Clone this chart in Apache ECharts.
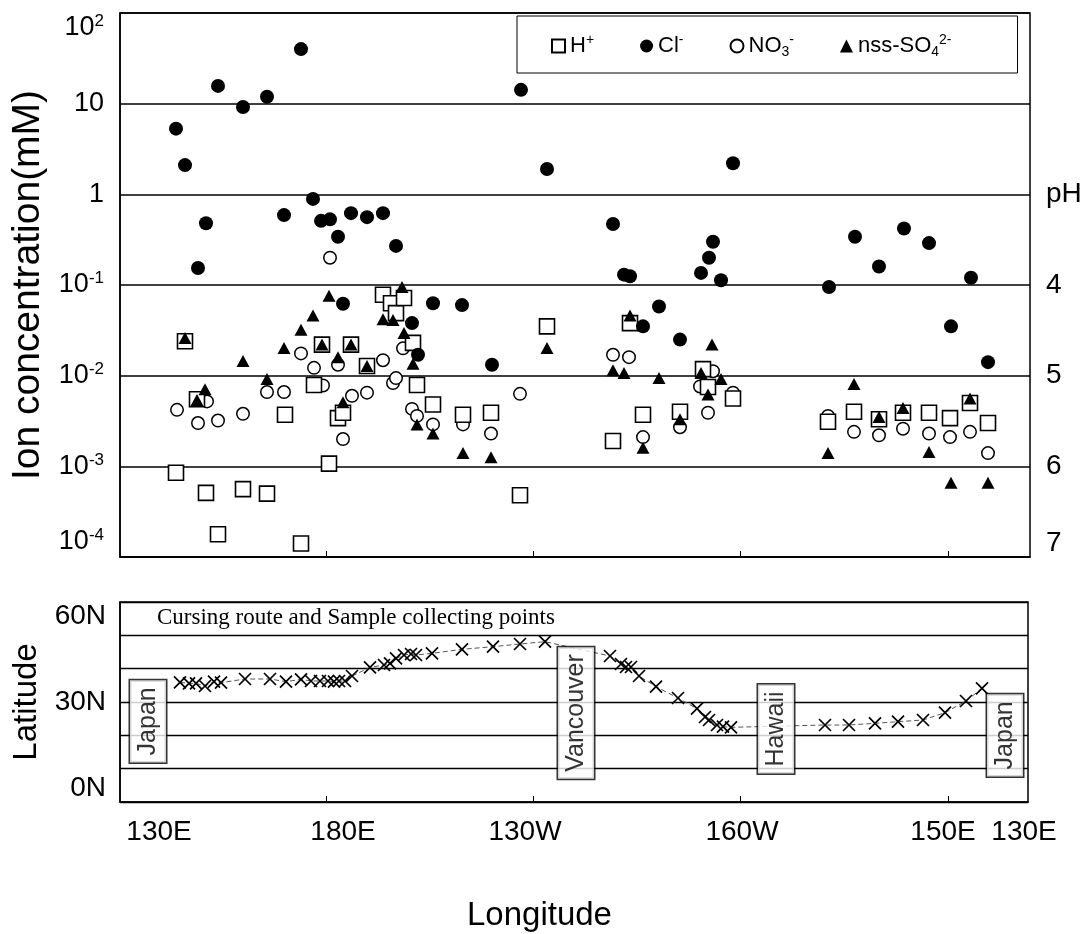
<!DOCTYPE html>
<html><head><meta charset="utf-8">
<script src="https://cdn.jsdelivr.net/npm/echarts@6/dist/echarts.min.js"></script>
<style>html,body{margin:0;padding:0;background:#fff}#c{width:1091px;height:934px}</style>
</head><body><div id="c"></div>
<script>
// ---------------- DATA ----------------
// x = position along the cruise route (chart units), y = concentration (mM)
const clX    = [56,65,78,86,98,123,147,164,181,193,201,210,218,223,231,247,263,276,292,298,313,342,372,401,427,493,504,510,523,539,560,581,589,593,601,613,709,735,759,784,809,831,851,868];
const clConc = [5.3,2.1,0.154,0.48,15.7,9.2,11.9,0.59,40,0.89,0.51,0.53,0.34,0.062,0.62,0.56,0.62,0.27,0.038,0.017,0.063,0.06,0.0132,14.2,1.9,0.47,0.13,0.125,0.035,0.058,0.025,0.136,0.20,0.30,0.113,2.2,0.095,0.34,0.16,0.42,0.29,0.035,0.12,0.0141];

const hX    = [56,65,77,86,98,123,147,165,181,194,202,209,218,223,231,247,263,271,276,284,293,297,313,343,371,400,427,493,510,523,560,583,588,613,708,734,759,783,809,830,850,868];
const hConc = [0.00085,0.024,0.0055,0.00051,0.000178,0.00056,0.0005,0.0037,0.000141,0.0079,0.022,0.00107,0.0034,0.0039,0.022,0.0128,0.078,0.063,0.049,0.072,0.023,0.0079,0.0048,0.0037,0.0039,0.00048,0.035,0.0019,0.038,0.0037,0.004,0.0118,0.0075,0.0056,0.0031,0.004,0.0033,0.0039,0.0039,0.0034,0.005,0.003];

const no3X    = [57,78,87,98,123,147,164,181,194,203,210,218,223,232,247,263,273,276,283,292,297,313,343,371,400,493,509,523,560,580,588,593,613,708,734,759,783,809,830,850,868];
const no3Conc = [0.0042,0.003,0.0052,0.0032,0.0038,0.0066,0.0066,0.0176,0.0122,0.0078,0.20,0.0132,0.002,0.006,0.0065,0.0148,0.0083,0.0094,0.02,0.0043,0.0036,0.0029,0.0029,0.0023,0.0063,0.017,0.016,0.0021,0.0027,0.0076,0.0039,0.0112,0.0065,0.0036,0.0024,0.0022,0.0026,0.0023,0.0021,0.0024,0.0014];

const so4X    = [65,77,85,123,147,164,181,193,202,209,218,223,231,247,263,273,282,284,293,297,313,343,371,427,493,504,510,523,539,560,581,588,592,601,708,734,759,783,809,831,850,868];
const so4Conc = [0.026,0.0054,0.0071,0.0145,0.0092,0.0202,0.032,0.046,0.022,0.076,0.016,0.0051,0.022,0.0128,0.042,0.041,0.095,0.0295,0.0135,0.0029,0.0023,0.0014,0.00126,0.0202,0.0115,0.0107,0.046,0.0016,0.0094,0.0033,0.0107,0.0062,0.022,0.0092,0.0014,0.0081,0.0035,0.0044,0.00144,0.00066,0.0056,0.00066];

// cruise route: position along route and latitude (deg N)
const routeX   = [60,69,76,85,94,101,125,150,166,181,191,200,208,214,219,225,232,250,264,270,276,284,291,296,312,342,373,400,425,490,501,506,511,519,536,558,577,585,589,597,603,611,705,729,755,778,803,825,846,862];
const routeLat = [35.9,35.6,35.6,34.8,36.1,35.8,36.9,36.9,36.1,36.8,36.3,36.3,36.3,36.1,36.3,36.3,37.8,40.4,41.1,41.6,43.1,44.1,44.4,44.1,44.6,45.8,46.6,47.4,48.1,43.8,41.4,40.5,40.5,37.8,34.6,31.2,28.0,25.5,24.6,23.1,22.6,22.4,23.1,23.1,23.6,24.1,24.6,26.8,30.3,34.1];

const placeNames = ['Japan','Vancouver','Hawaii','Japan'];
const placeX     = [28, 456, 656, 885];
const placeLat   = [24.2, 26.7, 21.9, 20.0];

// tick labels
const concTickLabels = ['10{sup|-4}','10{sup|-3}','10{sup|-2}','10{sup|-1}','1','10','10{sup|2}']; // 1e-4 .. 1e2
const pHTickLabels   = ['7','6','5','4','pH','',''];
const latTickValues  = [0, 30, 60];
const latTickLabels  = ['0N','30N','60N'];
const lonTickPos     = [39, 223, 405, 622, 823, 904];
const lonTickLabels  = ['130E','180E','130W','160W','150E','130E'];
const routeTickPos   = [206, 413, 620, 828];

const legendNames  = ['H+','Cl-','NO3-','nss-SO4 2-'];
const legendLabels = ['H{sup|+}','Cl{sup|-}','NO{sub|3}{sup|-}','nss-SO{sub|4}{sup|2-}'];

// ---------------- CHART ----------------
const FONT = '"Liberation Sans", Arial, Helvetica, sans-serif';
const pair = (xs, ys) => xs.map((x, i) => [x, ys[i]]);
const expIdx = v => Math.round(Math.log10(v)) + 4;

const chart = echarts.init(document.getElementById('c'), null, {renderer: 'canvas'});
chart.setOption({
  animation: false,
  backgroundColor: '#fff',
  title: {
    text: 'Longitude', left: 462, top: 894,
    textStyle: {fontSize: 33, fontWeight: 'normal', fontFamily: FONT, color: '#000'}
  },
  legend: {
    data: legendNames, left: 517, top: 16, orient: 'horizontal',
    padding: [17, 66, 14, 34], itemGap: 46, itemWidth: 13, itemHeight: 13,
    borderColor: '#000', borderWidth: 1, backgroundColor: '#fff', selectedMode: false,
    formatter: n => legendLabels[legendNames.indexOf(n)],
    textStyle: {
      fontSize: 22, fontFamily: FONT, color: '#000', lineHeight: 26,
      rich: {
        sup: {fontSize: 14, verticalAlign: 'top', lineHeight: 12, fontFamily: FONT, color: '#000'},
        sub: {fontSize: 14, verticalAlign: 'bottom', lineHeight: 12, fontFamily: FONT, color: '#000'}
      }
    }
  },
  graphic: [{
    type: 'text', left: 157, top: 606, z: 20,
    style: {text: 'Cursing route and Sample collecting points', font: '23px "Liberation Serif", "Times New Roman", serif', fill: '#000'}
  }],
  grid: [
    {left: 120, top: 13, width: 910, height: 544, show: true, borderColor: '#000', borderWidth: 1.5},
    {left: 120, top: 602, width: 908, height: 200, show: true, borderColor: '#000', borderWidth: 1.5}
  ],
  xAxis: [
    {type: 'value', gridIndex: 0, min: 0, max: 910,
     axisLine: {show: true, lineStyle: {color: '#000', width: 1.5}},
     axisTick: {show: true, inside: true, length: 6, customValues: routeTickPos, lineStyle: {color: '#000'}},
     axisLabel: {show: false}, splitLine: {show: false}},
    {type: 'value', gridIndex: 1, min: 0, max: 908,
     axisLine: {show: true, lineStyle: {color: '#000', width: 1.5}},
     axisTick: {show: true, inside: true, length: 6, customValues: routeTickPos, lineStyle: {color: '#000'}},
     axisLabel: {show: true, customValues: lonTickPos, margin: 16, fontSize: 28, fontFamily: FONT, color: '#000',
       formatter: v => lonTickLabels[lonTickPos.indexOf(v)]},
     splitLine: {show: false}}
  ],
  yAxis: [
    {type: 'log', logBase: 10, gridIndex: 0, min: 1e-4, max: 100, position: 'left',
     axisLine: {show: true, lineStyle: {color: '#000', width: 1.5}}, axisTick: {show: false},
     splitLine: {show: true, lineStyle: {color: '#000', width: 1.5}},
     axisLabel: {margin: 16, fontSize: 27, lineHeight: 30, fontFamily: FONT, color: '#000',
       verticalAlignMinLabel: 'bottom', verticalAlignMaxLabel: 'top',
       formatter: v => concTickLabels[expIdx(v)],
       rich: {sup: {fontSize: 17, verticalAlign: 'top', lineHeight: 14, fontFamily: FONT, color: '#000'}}},
     name: 'Ion concentration(mM)', nameLocation: 'middle', nameRotate: 90, nameGap: 69,
     nameTextStyle: {fontSize: 39, fontFamily: FONT, color: '#000'}},
    {type: 'log', logBase: 10, gridIndex: 0, min: 1e-4, max: 100, position: 'right',
     axisLine: {show: false}, axisTick: {show: false}, splitLine: {show: false},
     axisLabel: {margin: 16, fontSize: 28, fontFamily: FONT, color: '#000',
       verticalAlignMinLabel: 'bottom',
       formatter: v => pHTickLabels[expIdx(v)]}},
    {type: 'value', gridIndex: 1, min: 0, max: 60, interval: 10,
     axisLine: {show: true, lineStyle: {color: '#000', width: 1.5}}, axisTick: {show: false},
     splitLine: {show: true, lineStyle: {color: '#000', width: 1.3}},
     axisLabel: {margin: 14, fontSize: 28, fontFamily: FONT, color: '#000',
       verticalAlignMinLabel: 'bottom', verticalAlignMaxLabel: 'top',
       formatter: v => { const i = latTickValues.indexOf(v); return i >= 0 ? latTickLabels[i] : ''; }},
     name: 'Latitude', nameLocation: 'middle', nameRotate: 90, nameGap: 72,
     nameTextStyle: {fontSize: 33, fontFamily: FONT, color: '#000'}}
  ],
  series: [
    {name: 'NO3-', type: 'scatter', xAxisIndex: 0, yAxisIndex: 0, z: 2,
     data: pair(no3X, no3Conc), symbol: 'circle', symbolSize: 12.5,
     itemStyle: {color: '#fff', borderColor: '#000', borderWidth: 1.5, opacity: 1}},
    {name: 'H+', type: 'scatter', xAxisIndex: 0, yAxisIndex: 0, z: 3,
     data: pair(hX, hConc), symbol: 'rect', symbolSize: 15,
     itemStyle: {color: '#fff', borderColor: '#000', borderWidth: 1.6, opacity: 1}},
    {name: 'Cl-', type: 'scatter', xAxisIndex: 0, yAxisIndex: 0, z: 4,
     data: pair(clX, clConc), symbol: 'circle', symbolSize: 14,
     itemStyle: {color: '#000', opacity: 1}},
    {name: 'nss-SO4 2-', type: 'scatter', xAxisIndex: 0, yAxisIndex: 0, z: 5,
     data: pair(so4X, so4Conc), symbol: 'triangle', symbolSize: [13, 12],
     itemStyle: {color: '#000', opacity: 1}},
    {name: 'route', type: 'line', xAxisIndex: 1, yAxisIndex: 2, z: 3,
     data: pair(routeX, routeLat), showSymbol: true, showAllSymbol: true,
     symbol: 'path://M0,0L10,10M10,0L0,10', symbolSize: 12,
     itemStyle: {color: '#000', borderColor: '#000', borderWidth: 1.7, opacity: 1},
     lineStyle: {color: '#555', width: 1, type: [5, 3]}},
    {name: 'places', type: 'scatter', xAxisIndex: 1, yAxisIndex: 2, z: 10,
     data: placeNames.map((n, i) => ({name: n, value: [placeX[i], placeLat[i]]})),
     symbolSize: 1, itemStyle: {color: 'rgba(0,0,0,0)'},
     label: {show: true, position: 'inside', rotate: 90, formatter: '{b}',
       fontSize: 25, fontFamily: FONT, color: '#000', lineHeight: 24,
       backgroundColor: '#fff', borderColor: '#000', borderWidth: 1.5, padding: [6, 7]}}
  ]
});
</script></body></html>
